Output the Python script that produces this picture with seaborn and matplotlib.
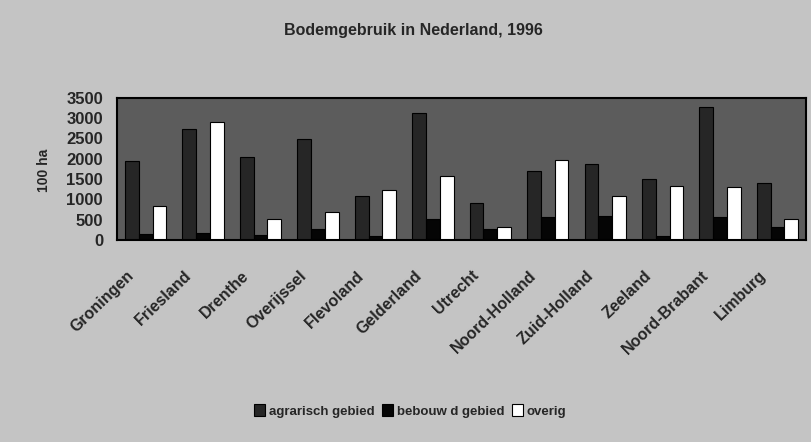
import matplotlib
matplotlib.use("Agg")
import matplotlib.pyplot as plt
from matplotlib.transforms import ScaledTranslation
import seaborn as sns
import pandas as pd

provinces = ["Groningen", "Friesland", "Drenthe", "Overijssel", "Flevoland",
             "Gelderland", "Utrecht", "Noord-Holland", "Zuid-Holland",
             "Zeeland", "Noord-Brabant", "Limburg"]
agrarisch = [1950, 2730, 2030, 2480, 1070, 3120, 900, 1700, 1860, 1490, 3280, 1400]
bebouwd = [150, 160, 130, 260, 100, 520, 280, 560, 600, 110, 560, 310]
overig = [830, 2890, 520, 690, 1230, 1570, 310, 1960, 1080, 1320, 1300, 520]
series = ["agrarisch gebied", "bebouw d gebied", "overig"]
yticks = [0, 500, 1000, 1500, 2000, 2500, 3000, 3500]

rows = []
for i, p in enumerate(provinces):
    rows.append((p, series[0], agrarisch[i]))
    rows.append((p, series[1], bebouwd[i]))
    rows.append((p, series[2], overig[i]))
df = pd.DataFrame(rows, columns=["provincie", "soort", "waarde"])

sns.set_theme(style="white")
plt.rcParams["font.family"] = ["Liberation Sans", "DejaVu Sans"]

fig = plt.figure(figsize=(8.12, 4.42), dpi=100)
fig.patch.set_facecolor("#c4c4c4")
ax = fig.add_axes([0.144, 0.457, 0.849, 0.322])
ax.set_facecolor("#5c5c5c")

palette = {series[0]: "#262626", series[1]: "#050505", series[2]: "#ffffff"}
sns.barplot(data=df, x="provincie", y="waarde", hue="soort", palette=palette,
            width=0.72, edgecolor="black", linewidth=0.8, ax=ax, legend=True,
            saturation=1)

ax.set_ylim(0, 3500)
ax.set_yticks(yticks)
ax.set_yticklabels([str(v) for v in yticks], fontsize=12, fontweight="bold")
ax.set_xlabel("")
ax.set_ylabel("100 ha", fontsize=10, fontweight="bold")
ax.yaxis.set_label_coords(-0.095, 0.49)
ax.set_xticks(range(len(provinces)))
ax.set_xticklabels(provinces, rotation=44, ha="right", rotation_mode="anchor",
                   fontsize=11.5, fontweight="bold")
ax.tick_params(axis="y", length=0, pad=10)
ax.tick_params(axis="x", length=0, pad=20)
shift = ScaledTranslation(-0.19, 0, fig.dpi_scale_trans)
for lab in ax.get_xticklabels():
    lab.set_transform(lab.get_transform() + shift)
for s in ax.spines.values():
    s.set_color("black")
    s.set_linewidth(1.5)

ax.legend_.remove()
handles, labels = ax.get_legend_handles_labels()
fig.legend(handles[:3], labels[:3], loc="center", bbox_to_anchor=(0.505, 0.070),
           ncol=3, frameon=False, handlelength=0.8, handleheight=1.0,
           handletextpad=0.3, columnspacing=0.6, prop={"weight": "bold", "size": 9.5})

fig.text(0.509, 0.93, "Bodemgebruik in Nederland, 1996", ha="center", va="center",
         fontsize=11.5, fontweight="bold")

fig.savefig("out.png", dpi=100, facecolor=fig.get_facecolor())
